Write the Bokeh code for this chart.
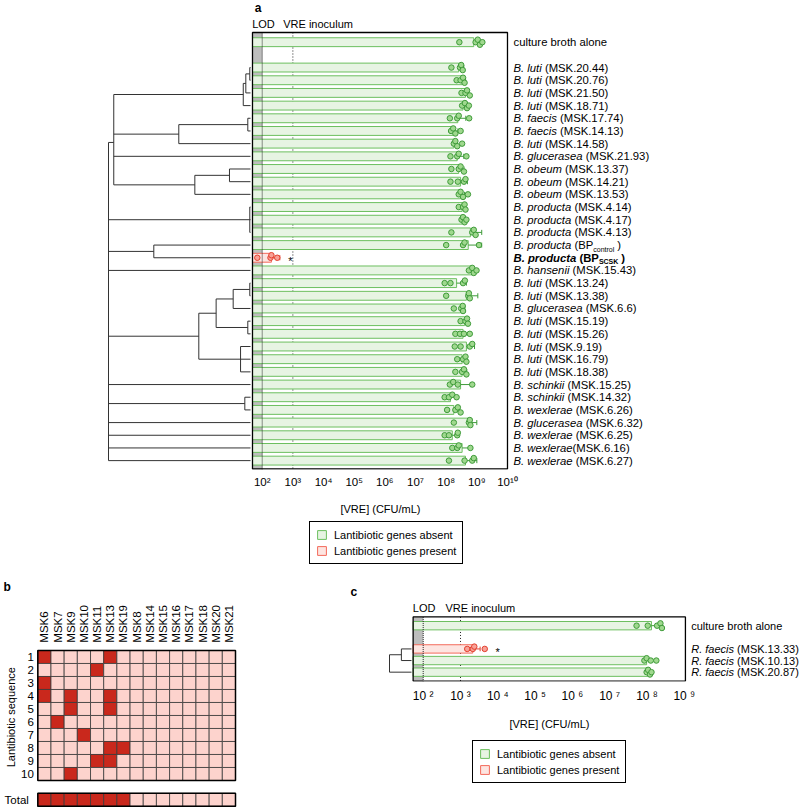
import numpy as np
from bokeh.plotting import figure
from bokeh.models import Range1d, LinearScale, FixedTicker, ColumnDataSource, Legend, LegendItem
from bokeh.layouts import column, row
from bokeh.core.properties import value
from bokeh.embed import file_html
from bokeh.resources import INLINE

FONT = "Liberation Sans"

# ------------------------------------------------------------------ data: panel a
a_species = ["", "B. luti", "B. luti", "B. luti", "B. luti", "B. faecis", "B. faecis", "B. luti",
             "B. glucerasea", "B. obeum", "B. obeum", "B. obeum", "B. producta", "B. producta",
             "B. producta", "B. producta", "B. producta", "B. hansenii", "B. luti", "B. luti",
             "B. glucerasea", "B. luti", "B. luti", "B. luti", "B. luti", "B. luti", "B. schinkii",
             "B. schinkii", "B. wexlerae", "B. glucerasea", "B. wexlerae", "B. wexlerae", "B. wexlerae"]
a_strain = ["culture broth alone", "(MSK.20.44)", "(MSK.20.76)", "(MSK.21.50)", "(MSK.18.71)",
            "(MSK.17.74)", "(MSK.14.13)", "(MSK.14.58)", "(MSK.21.93)", "(MSK.13.37)", "(MSK.14.21)",
            "(MSK.13.53)", "(MSK.4.14)", "(MSK.4.17)", "(MSK.4.13)", "(BP", "(BP", "(MSK.15.43)",
            "(MSK.13.24)", "(MSK.13.38)", "(MSK.6.6)", "(MSK.15.19)", "(MSK.15.26)", "(MSK.9.19)",
            "(MSK.16.79)", "(MSK.18.38)", "(MSK.15.25)", "(MSK.14.32)", "(MSK.6.26)", "(MSK.6.32)",
            "(MSK.6.25)", "(MSK.6.16)", "(MSK.6.27)"]
a_nospace = [False] * 33
a_nospace[31] = True          # "B. wexlerae(MSK.6.16)"
a_subscript = {15: "control", 16: "SCSK"}
a_bold_index = 16
a_rows = [0] + list(range(2, 34))
a_lanti = [False] * 33
a_lanti[16] = True
# log10 CFU/mL
a_bar_log = [8.90, 8.41, 8.52, 8.63, 8.55, 8.38, 8.25, 8.25, 8.36, 8.41, 8.47, 8.47, 8.52, 8.52,
             8.79, 8.72, 2.30, 8.85, 8.34, 8.66, 8.47, 8.60, 8.55, 8.66, 8.52, 8.52, 8.47, 8.14,
             8.25, 8.74, 8.20, 8.52, 8.63]
a_points_log = [
    [8.43, 8.96, 9.03, 9.10, 9.18],
    [8.17, 8.45, 8.49, 8.54], [8.34, 8.47, 8.55, 8.60], [8.50, 8.63, 8.68, 8.77],
    [8.52, 8.61, 8.68, 8.74], [8.12, 8.36, 8.41, 8.75], [8.16, 8.23, 8.30, 8.47],
    [8.25, 8.30, 8.36, 8.52], [8.14, 8.36, 8.41, 8.66], [8.17, 8.41, 8.47, 8.58],
    [8.14, 8.38, 8.58, 8.63], [8.41, 8.47, 8.55, 8.71], [8.41, 8.55, 8.60, 8.63],
    [8.50, 8.55, 8.60, 8.66], [8.17, 8.85, 8.90, 8.96], [8.00, 8.55, 8.60, 9.07],
    [1.84, 2.27, 2.30, 2.49], [8.74, 8.85, 8.90, 8.99], [7.95, 8.14, 8.55, 8.61],
    [8.00, 8.72, 8.74, 8.77], [8.25, 8.49, 8.54, 8.55], [8.47, 8.63, 8.68, 8.71],
    [8.30, 8.45, 8.58, 8.77], [8.28, 8.47, 8.77, 8.85], [8.36, 8.55, 8.63, 8.66],
    [8.30, 8.52, 8.58, 8.66], [8.12, 8.23, 8.38, 8.85], [7.95, 8.09, 8.20, 8.34],
    [8.03, 8.30, 8.38, 8.47], [8.25, 8.74, 8.77, 8.79], [7.95, 8.09, 8.36, 8.38],
    [8.20, 8.36, 8.41, 8.79], [8.09, 8.60, 8.85, 8.90]]
a_signif_row = 17
# dendrogram (height, children); leaves are row numbers
a_tree = (1.0, [
    (0.963, [(0.051, [(0.033, [(0.005, [2, 3]), 4]), 5]),
             (0.505, [(0.019, [6, 7]), 8]),
             9,
             (0.392, [(0.148, [10, 11]), 12])]),
    (0.005, [13, 14, 15]),
    (0.681, [16, 17]),
    18,
    (0.364, [(0.242, [(0.122, [(0.005, [19, 20]), 21]), (0.019, [22, 23])]),
             (0.070, [24, 25, 26])]),
    27,
    (0.040, [28, 29]),
    30, 31, 32, 33])

# ------------------------------------------------------------------ data: panel b
b_cols = ["MSK6", "MSK7", "MSK9", "MSK10", "MSK11", "MSK13", "MSK19", "MSK8", "MSK14", "MSK15",
          "MSK16", "MSK17", "MSK18", "MSK20", "MSK21"]
b_seqs = ["1", "2", "3", "4", "5", "6", "7", "8", "9", "10"]
b_present = {"1": ["MSK6", "MSK13"], "2": ["MSK11"], "3": ["MSK6"], "4": ["MSK6", "MSK9", "MSK13"],
             "5": ["MSK9", "MSK13"], "6": ["MSK7"], "7": ["MSK10"], "8": ["MSK13", "MSK19"],
             "9": ["MSK11", "MSK13"], "10": ["MSK9"]}

# ------------------------------------------------------------------ data: panel c
c_species = ["", "R. faecis", "R. faecis", "R. faecis"]
c_strain = ["culture broth alone", "(MSK.13.33)", "(MSK.10.13)", "(MSK.20.87)"]
c_rows = [0, 2, 3, 4]
c_lanti = [False, True, False, False]
c_bar_log = [8.12, 3.33, 7.99, 8.02]
c_points_log = [[7.72, 8.02, 8.27, 8.36, 8.40], [3.18, 3.33, 3.37, 3.65],
                [7.93, 7.99, 8.10, 8.25], [7.99, 8.03, 8.08, 8.12]]
c_signif_row = 2
c_tree = (1.0, [(0.46, [2, 3]), 4])

# ------------------------------------------------------------------ styles
G_LINE, G_FILL, G_PT_FILL, G_PT_LINE = "#6cbf5f", "#e7f4e3", "#9fd88e", "#3f9b3a"
R_LINE, R_FILL, R_PT_FILL, R_PT_LINE = "#f36a5b", "#fde5e1", "#f8a197", "#e3402f"
GRAY = "#bdbdbd"
SUP = {"0": "\u2070", "1": "\u00b9", "2": "\u00b2", "3": "\u00b3", "4": "\u2074", "5": "\u2075",
       "6": "\u2076", "7": "\u2077", "8": "\u2078", "9": "\u2079"}

AR = {' ': 278, '.': 278, '(': 333, ')': 333, '/': 278,
      'A': 667, 'B': 667, 'C': 722, 'D': 722, 'E': 667, 'F': 611, 'G': 778, 'H': 722, 'I': 278,
      'K': 667, 'L': 556, 'M': 833, 'N': 722, 'O': 778, 'P': 667, 'R': 722, 'S': 667, 'T': 611,
      'a': 556, 'b': 556, 'c': 500, 'd': 556, 'e': 556, 'f': 278, 'g': 556, 'h': 556, 'i': 222,
      'k': 500, 'l': 222, 'm': 833, 'n': 556, 'o': 556, 'p': 556, 'r': 333, 's': 500, 't': 278,
      'u': 556, 'w': 722, 'x': 500}
ARB = {' ': 278, '.': 278, '(': 333, ')': 333, 'B': 722, 'P': 667, 'S': 667, 'C': 722, 'K': 722,
       'p': 611, 'r': 389, 'o': 611, 'd': 611, 'u': 611, 'c': 556, 't': 333, 'a': 556}


def tw(s, size, bold=False):
    t = ARB if bold else AR
    return sum(t.get(ch, 556) for ch in s) * size / 1000.0


def dodge(vals, thr, step):
    order = np.argsort(vals)
    offs = np.zeros(len(vals))
    pattern = [0.0, -step, step]
    k, prev = 0, None
    for idx in order:
        v = vals[idx]
        k = k + 1 if (prev is not None and v - prev < thr) else 0
        offs[idx] = pattern[k % 3]
        prev = v
    return offs


def tree_segments(node, segs):
    if isinstance(node, int):
        return float(node), 0.0
    h, children = node
    res = [tree_segments(c, segs) for c in children]
    ys = [r[0] for r in res]
    for cy, ch in res:
        segs.append((ch, cy, h, cy))
    segs.append((h, min(ys), h, max(ys)))
    return float(np.mean(ys)), h


def style_fig(p):
    p.xgrid.visible = False
    p.ygrid.visible = False
    p.outline_line_color = None
    p.background_fill_color = "white"
    p.border_fill_color = "white"


def txt(p, x, y, s, size, style="normal", align="left", baseline="middle", angle=0.0, **kw):
    p.text(x=x, y=y, text=[s] if isinstance(s, str) else s, text_font=value(FONT),
           text_font_size=value(size), text_font_style=style, text_align=align,
           text_baseline=baseline, angle=angle, text_color="black", **kw)


def bar_panel(p, rows, bar_log, pts_log, lanti, box_l, box_r, box_t, box_b, bar_h, pt_size, dodge_thr):
    # LOD zone
    p.quad(left=[10 ** box_l], right=[1e2], top=[box_t], bottom=[box_b], fill_color=GRAY,
           line_color=None)
    # inoculum line
    p.segment(x0=[1e3], x1=[1e3], y0=[box_t], y1=[box_b], line_color="#222222", line_width=1,
              line_dash="1 2")
    for flag, lc, fc in [(False, G_LINE, G_FILL), (True, R_LINE, R_FILL)]:
        sel = [i for i in range(len(rows)) if lanti[i] == flag]
        src = ColumnDataSource(dict(y=[rows[i] for i in sel], right=[10 ** bar_log[i] for i in sel]))
        p.hbar(y="y", left=10 ** box_l, right="right", height=bar_h, source=src,
               fill_color=fc, line_color=lc, line_width=1)
    # LOD line
    p.segment(x0=[1e2], x1=[1e2], y0=[box_t], y1=[box_b], line_color="#222222", line_width=1,
              line_dash="1 1")
    # whiskers
    wx0, wx1, wy, cx, cy0, cy1, wc = [], [], [], [], [], [], []
    for i, r in enumerate(rows):
        sd = float(np.std(pts_log[i], ddof=1))
        hi = bar_log[i] + sd
        wx0.append(10 ** bar_log[i]); wx1.append(10 ** hi); wy.append(r)
        cx.append(10 ** hi); cy0.append(r - 0.2); cy1.append(r + 0.2)
        wc.append(R_PT_LINE if lanti[i] else G_PT_LINE)
    p.segment(x0=wx0, x1=wx1, y0=wy, y1=wy, line_color=wc, line_width=1)
    p.segment(x0=cx, x1=cx, y0=cy0, y1=cy1, line_color=wc, line_width=1)
    # points
    px, py, pf, pl = [], [], [], []
    for i, r in enumerate(rows):
        vals = np.array(pts_log[i])
        offs = dodge(vals, dodge_thr, 0.2)
        for v, o in zip(vals, offs):
            px.append(10 ** v); py.append(r + o)
            pf.append(R_PT_FILL if lanti[i] else G_PT_FILL)
            pl.append(R_PT_LINE if lanti[i] else G_PT_LINE)
    p.scatter(x=px, y=py, size=pt_size, marker="circle", fill_color=pf, line_color=pl,
              line_width=1)
    # frame box
    p.quad(left=[10 ** box_l], right=[10 ** box_r], top=[box_t], bottom=[box_b - 0.04],
           fill_color=None, line_color="black", line_width=1.3)


def style_axis(ax, ticks, labels, tick_size, standoff, lab_standoff):
    ax.ticker = FixedTicker(ticks=ticks)
    ax.major_label_overrides = dict(zip(ticks, labels))
    ax.axis_line_color = None
    ax.major_tick_line_color = None
    ax.minor_tick_line_color = None
    ax.major_tick_out = 0
    ax.major_tick_in = 0
    ax.major_label_text_font = FONT
    ax.major_label_text_font_size = tick_size
    ax.major_label_text_color = "black"
    ax.major_label_standoff = standoff
    ax.axis_label = "[VRE] (CFU/mL)"
    ax.axis_label_text_font = FONT
    ax.axis_label_text_font_size = "11px"
    ax.axis_label_text_font_style = "normal"
    ax.axis_label_text_color = "black"
    ax.axis_label_standoff = lab_standoff


def legend_fig(width, height, loc):
    lf = figure(width=width, height=height, x_range=Range1d(0, 1), y_range=Range1d(0, 1),
                x_axis_location=None, y_axis_location=None, output_backend="svg",
                toolbar_location=None, min_border=0)
    style_fig(lf)
    # off-screen swatches that feed the legend glyphs
    rg = lf.hbar(y=[-5], right=[1], left=0, height=1, fill_color=G_FILL, line_color=G_LINE, line_width=1)
    rr = lf.hbar(y=[-5], right=[1], left=0, height=1, fill_color=R_FILL, line_color=R_LINE, line_width=1)
    lg = Legend(items=[LegendItem(label="Lantibiotic genes absent", renderers=[rg]),
                       LegendItem(label="Lantibiotic genes present", renderers=[rr])],
                location=loc, orientation="vertical", border_line_color="black",
                border_line_width=1.2, border_line_alpha=1.0, padding=6, spacing=3,
                glyph_width=11, glyph_height=11, label_height=13, label_standoff=7,
                label_text_font=FONT, label_text_font_size="11px", label_text_color="black",
                margin=0, background_fill_color="white", background_fill_alpha=1.0)
    lf.add_layout(lg)
    return lf


# ================================================================== panel a
A_X0, A_X1 = -6.536, 18.252
A_BOX_L = 1.683
A_Y_TOP, A_Y_BOT = -3.289, 33.70
A_BOX_T = -0.765
pa = figure(width=800, height=519, x_axis_type="log", x_range=Range1d(10 ** A_X0, 10 ** A_X1),
            y_range=Range1d(A_Y_BOT, A_Y_TOP), y_axis_location=None, output_backend="svg",
            toolbar_location=None, min_border_left=0, min_border_right=40, min_border_top=0,
            min_border_bottom=50)
style_fig(pa)
pa.extra_x_ranges = {"dendro": Range1d(250 / 142.0, (250 - 760) / 142.0)}
pa.extra_x_scales = {"dendro": LinearScale()}

bar_panel(pa, a_rows, a_bar_log, a_points_log, a_lanti, A_BOX_L, 10.0, A_BOX_T, A_Y_BOT,
          0.7, 5.5, 0.12)
segs = []
tree_segments(a_tree, segs)
pa.segment(x0=[s[0] for s in segs], y0=[s[1] for s in segs], x1=[s[2] for s in segs],
           y1=[s[3] for s in segs], line_color="#333333", line_width=1, x_range_name="dendro")

ticks = [10.0 ** k for k in range(2, 11)]
style_axis(pa.xaxis[0], ticks, ["10" + "".join(SUP[c] for c in str(k)) for k in range(2, 11)],
           "11.5px", 6, 12)

# labels
LAB_X = 10 ** 10.196
FS = 11.3
sp_x, sp_y, sp_t = [], [], []
st_x, st_y, st_t, st_off = [], [], [], []
for i, r in enumerate(a_rows):
    if i == a_bold_index:
        continue
    if a_species[i]:
        sp_x.append(LAB_X); sp_y.append(r); sp_t.append(a_species[i])
        off = tw(a_species[i] + ("" if a_nospace[i] else " "), FS)
    else:
        off = 0.0
    st_x.append(LAB_X); st_y.append(r); st_t.append(a_strain[i]); st_off.append(off)
    if i in a_subscript:
        o2 = off + tw(a_strain[i], FS)
        txt(pa, [LAB_X], [r], a_subscript[i], "7px", x_offset=o2, y_offset=4)
        txt(pa, [LAB_X], [r], ")", "%spx" % FS, x_offset=o2 + tw(a_subscript[i], 7) + 3)
txt(pa, sp_x, sp_y, sp_t, "%spx" % FS, style="italic")
pa.text(x="x", y="y", text="t", x_offset="o",
        source=ColumnDataSource(dict(x=st_x, y=st_y, t=st_t, o=st_off)),
        text_font=value(FONT), text_font_size=value("%spx" % FS), text_baseline="middle",
        text_align="left", text_color="black")
# bold (engineered) strain
i = a_bold_index
r = a_rows[i]
txt(pa, [LAB_X], [r], a_species[i], "%spx" % FS, style="bold italic")
o1 = tw(a_species[i] + " ", FS, bold=True)
txt(pa, [LAB_X], [r], a_strain[i], "%spx" % FS, style="bold", x_offset=o1)
o2 = o1 + tw(a_strain[i], FS, bold=True)
txt(pa, [LAB_X], [r], a_subscript[i], "7px", style="bold", x_offset=o2, y_offset=4)
txt(pa, [LAB_X], [r], ")", "%spx" % FS, style="bold", x_offset=o2 + tw(a_subscript[i], 7, True) + 3)

txt(pa, [10 ** 2.85], [a_signif_row], "*", "11px", y_offset=3)
txt(pa, [10 ** 1.673], [-1.435], "LOD", "11px")
txt(pa, [10 ** 2.685], [-1.435], "VRE inoculum", "11px")
txt(pa, [10 ** 1.754], [-2.66], "a", "12px", style="bold")

la = legend_fig(800, 59, (309, 14))

# ================================================================== panel b
pb = figure(width=250, height=229, x_range=Range1d(-2.830, 16.138), y_range=Range1d(12.077, -5.538),
            x_axis_location=None, y_axis_location=None, output_backend="svg",
            toolbar_location=None, min_border=0)
style_fig(pb)
cx, cy, cc = [], [], []
for ri, s in enumerate(b_seqs):
    for ci, c in enumerate(b_cols):
        cx.append(ci + 0.5); cy.append(ri + 0.5)
        cc.append("#c9281c" if c in b_present[s] else "#fdd3cd")
TOT_Y = 11.49
for ci, c in enumerate(b_cols):
    any_p = any(c in b_present[s] for s in b_seqs)
    cx.append(ci + 0.5); cy.append(TOT_Y)
    cc.append("#c9281c" if any_p else "#fdd3cd")
pb.rect(x=cx, y=cy, width=1, height=1, fill_color=cc, line_color="#3a3a3a", line_width=0.8)
pb.quad(left=[0, 0], right=[len(b_cols)] * 2, top=[0, TOT_Y - 0.5], bottom=[len(b_seqs), TOT_Y + 0.5],
        fill_color=None, line_color="black", line_width=1.5)
txt(pb, [ci + 0.5 for ci in range(len(b_cols))], [-0.6] * len(b_cols), b_cols, "11.5px",
    angle=np.pi / 2)
txt(pb, [-0.303] * len(b_seqs), [ri + 0.5 for ri in range(len(b_seqs))], b_seqs, "11.5px",
    align="right")
txt(pb, [-0.68], [TOT_Y], "Total", "11.5px", align="right")
txt(pb, [-2.03], [5.13], "Lantibiotic sequence", "11px", align="center", angle=np.pi / 2)
txt(pb, [-2.60], [-4.85], "b", "12px", style="bold")

# ================================================================== panel c
C_X0, C_X1 = -1.343, 12.115
C_BOX_L, C_BOX_R = 1.73, 9.03
C_Y_TOP, C_Y_BOT = -4.06, 4.803
C_BOX_T = -0.75
pc = figure(width=550, height=154, x_axis_type="log", x_range=Range1d(10 ** C_X0, 10 ** C_X1),
            y_range=Range1d(C_Y_BOT, C_Y_TOP), y_axis_location=None, output_backend="svg",
            toolbar_location=None, min_border_left=48, min_border_right=0, min_border_top=0,
            min_border_bottom=50)
style_fig(pc)
pc.extra_x_ranges = {"dendro": Range1d(113 / 22.0, (113 - 502) / 22.0)}
pc.extra_x_scales = {"dendro": LinearScale()}
bar_panel(pc, c_rows, c_bar_log, c_points_log, c_lanti, C_BOX_L, C_BOX_R, C_BOX_T, C_Y_BOT,
          0.72, 5.5, 0.10)
segs = []
tree_segments(c_tree, segs)
pc.segment(x0=[s[0] for s in segs], y0=[s[1] for s in segs], x1=[s[2] for s in segs],
           y1=[s[3] for s in segs], line_color="#333333", line_width=1, x_range_name="dendro")
ticks_c = [10.0 ** k for k in range(2, 10)]
style_axis(pc.xaxis[0], ticks_c, ["10 " + SUP[str(k)] for k in range(2, 10)], "12px", 7, 12)

CLAB_X = 10 ** 9.185
FSC = 11
for i, r in enumerate(c_rows):
    if c_species[i]:
        txt(pc, [CLAB_X], [r], c_species[i], "%spx" % FSC, style="italic")
        off = tw(c_species[i] + " ", FSC)
    else:
        off = 0.0
    txt(pc, [CLAB_X], [r], c_strain[i], "%spx" % FSC, x_offset=off)
txt(pc, [10 ** 3.94], [c_signif_row], "*", "11px", y_offset=3)
txt(pc, [10 ** 1.721], [-1.52], "LOD", "11px")
txt(pc, [10 ** 2.598], [-1.52], "VRE inoculum", "11px")
txt(pc, [10 ** 0.051], [-2.89], "c", "12px", style="bold")

lc = legend_fig(550, 75, (174, 24))

layout = column(pa, la, row(pb, column(pc, lc, spacing=0), spacing=0), spacing=0)
open("out.html", "w").write(file_html(layout, INLINE))
